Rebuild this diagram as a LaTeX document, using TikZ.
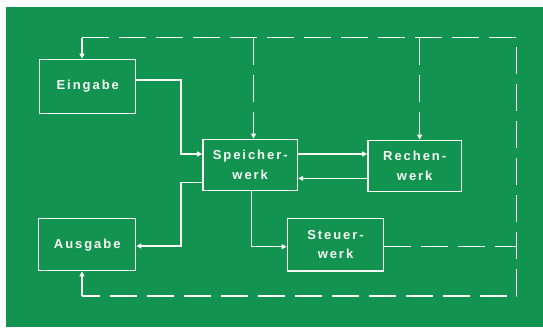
\documentclass[tikz,border=0pt]{standalone}
\usepackage{fontspec}
\setmainfont{Liberation Sans}
\newfontfamily\lblfont[LetterSpace=15]{Liberation Sans}
\usetikzlibrary{arrows.meta}
\definecolor{bggreen}{RGB}{18,148,80}
\definecolor{lineW}{RGB}{250,250,245}
\tikzset{
  blk/.style={draw=lineW, line width=1.4pt, rectangle, align=center, text=lineW,
    font=\lblfont\bfseries\fontsize{13}{19.5}\selectfont, inner sep=0pt},
  conn/.style={draw=lineW, line width=1.4pt},
  arr/.style={conn, -{Triangle[length=5pt,width=5pt]}},
  dsh/.style={dash pattern=on 27pt off 10pt}
}
\begin{document}
\begin{tikzpicture}[x=1pt,y=-1pt]
\useasboundingbox (0,0) rectangle (543,327);
\fill[white] (0,0) rectangle (543,327);
\fill[bggreen] (6,7) rectangle (543,327);
% boxes
\node[blk, minimum width=96pt, minimum height=54pt] (ein) at (87.75,86.3) {Eingabe};
\node[blk, minimum width=97pt, minimum height=52pt] (aus) at (87.25,244.7) {Ausgabe};
\node[blk, minimum width=94.6pt, minimum height=51.4pt] (sp) at (250.2,165) {Speicher-\\werk};
\node[blk, minimum width=93.8pt, minimum height=51.4pt] (re) at (414.7,166) {Rechen-\\werk};
\node[blk, minimum width=96.3pt, minimum height=52.7pt] (st) at (335.5,244.6) {Steuer-\\werk};
% frame coordinates
\coordinate (tl) at (82,37.7);
\coordinate (tr) at (516.6,37.7);
\coordinate (br) at (516.6,296);
\coordinate (bl) at (82,296);
\coordinate (tS) at (253.5,37.7);
\coordinate (tR) at (419.7,37.7);
\coordinate (j1) at (181,80);
\coordinate (j2) at (181,154);
\coordinate (k1) at (181,182.7);
\coordinate (k2) at (181,246);
\coordinate (m1) at (300,154);
\coordinate (m2) at (300,178.3);
\coordinate (n1) at (251.7,246.7);
% dashed control lines
\draw[conn,dsh] (tl) -- (tr) -- (br) -- (bl);
\draw[conn,dsh] (st.east |- n1) -- (n1 -| br);
\draw[arr] (tl) -- (tl |- ein.north);
\draw[arr] (bl) -- (bl |- aus.south);
\draw[arr,dsh] (tS) -- (tS |- sp.north);
\draw[arr,dsh] (tR) -- (tR |- re.north);
% solid data lines
\draw[arr] (ein.east |- j1) -- (j1) -- (j2) -- (j2 -| sp.west);
\draw[arr] (sp.west |- k1) -- (k1) -- (k2) -- (k2 -| aus.east);
\draw[arr] (sp.east |- m1) -- (m1 -| re.west);
\draw[arr] (re.west |- m2) -- (m2 -| sp.east);
\draw[arr] (n1 |- sp.south) -- (n1) -- (n1 -| st.west);
\end{tikzpicture}
\end{document}
